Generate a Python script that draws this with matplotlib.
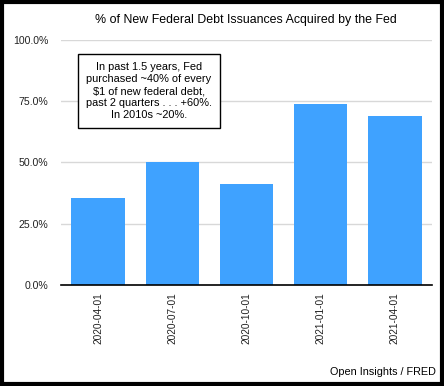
import matplotlib
matplotlib.use("Agg")
import matplotlib.pyplot as plt
from matplotlib.patches import Rectangle

categories = ["2020-04-01", "2020-07-01", "2020-10-01", "2021-01-01", "2021-04-01"]
values = [35.5, 50.2, 41.2, 73.8, 69.0]
yticks = [0, 25, 50, 75, 100]
ytick_labels = ["0.0%", "25.0%", "50.0%", "75.0%", "100.0%"]

plt.rcParams['font.family'] = ['Liberation Sans', 'DejaVu Sans']

fig = plt.figure(figsize=(4.44, 3.86), dpi=100)
ax = fig.add_axes([61/444, 1 - 285/386, 371/444, 245/386])

x = list(range(len(categories)))
ax.bar(x, values, width=0.72, color="#3fa2ff", zorder=3)
ax.set_xlim(-0.5, len(categories) - 0.5)
ax.set_ylim(0, 100)
ax.set_yticks(yticks)
ax.set_yticklabels(ytick_labels, fontsize=7.6, color="#222222")
ax.set_xticks(x)
ax.set_xticklabels(categories, rotation=90, fontsize=7.3, color="#222222")
ax.tick_params(axis='both', length=0)
ax.tick_params(axis='y', pad=9)
ax.tick_params(axis='x', pad=5)
for s in ['left', 'right', 'top']:
    ax.spines[s].set_visible(False)
ax.spines['bottom'].set_color('black')
ax.spines['bottom'].set_linewidth(1.2)
ax.spines['bottom'].set_zorder(4)
ax.yaxis.grid(True, color="#d8d8d8", linewidth=1, zorder=0)
ax.set_axisbelow(True)

fig.text(246/444, 1 - 20/386, "% of New Federal Debt Issuances Acquired by the Fed",
         ha='center', va='center', fontsize=8.9)

fig.text(149/444, 1 - 91/386,
         "In past 1.5 years, Fed\npurchased ~40% of every\n$1 of new federal debt,\npast 2 quarters . . . +60%.\nIn 2010s ~20%.",
         ha='center', va='center', fontsize=7.9, linespacing=1.22,
         bbox=dict(boxstyle='square,pad=0.75', facecolor='white', edgecolor='black', linewidth=1))

fig.text(436/444, 1 - 372/386, "Open Insights / FRED", ha='right', va='center', fontsize=7.8)

fig.patches.append(Rectangle((2/444, 2/386), 440/444, 382/386, transform=fig.transFigure,
                             fill=False, edgecolor='black', linewidth=3))

fig.savefig("out.png", dpi=100)
